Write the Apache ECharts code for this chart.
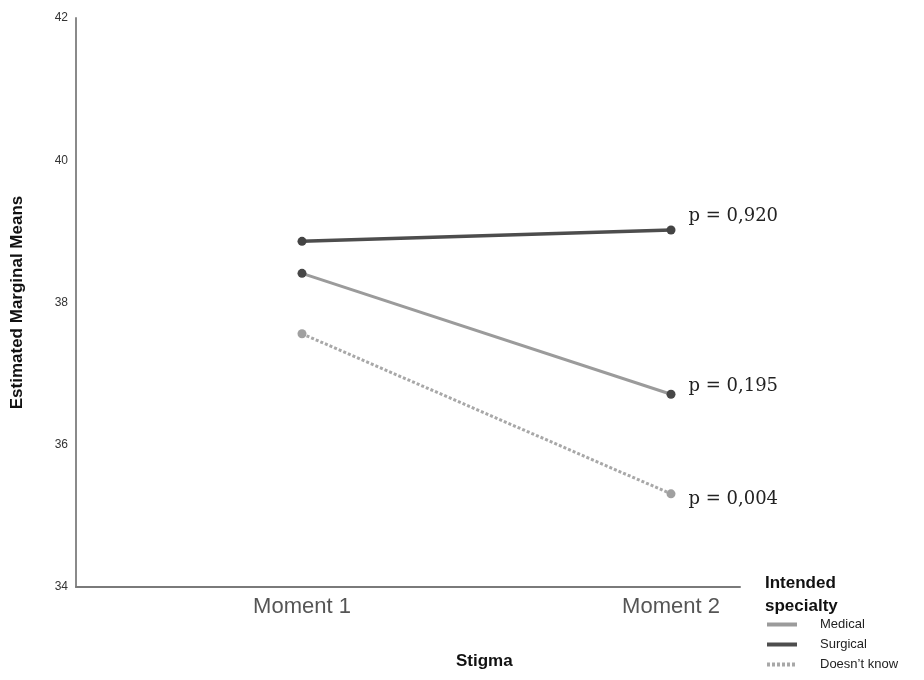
<!DOCTYPE html>
<html>
<head>
<meta charset="utf-8">
<script src="https://cdn.jsdelivr.net/npm/echarts@6/dist/echarts.min.js"></script>
<style>html,body{margin:0;padding:0;background:#fff;}#c{width:924px;height:680px;}</style>
</head>
<body>
<div id="c"></div>
<script>
// ---- data ----
const categories = ['Moment 1', 'Moment 2'];
const categoryPositions = [1, 2];
const seriesNames = ['Medical', 'Surgical', 'Doesn\u2019t know'];
const medical = [38.41, 36.71];
const surgical = [38.86, 39.02];
const doesntKnow = [37.56, 35.31];
const pValues = { 'Medical': 'p = 0,195', 'Surgical': 'p = 0,920', 'Doesn\u2019t know': 'p = 0,004' };
const yTicks = [34, 36, 38, 40, 42];

// ---- styles ----
const styles = {
  'Medical': { color: '#9b9b9b', sym: '#474747', type: 'solid', width: 3, labelDy: -8 },
  'Surgical': { color: '#4d4d4d', sym: '#444444', type: 'solid', width: 3.5, labelDy: -14 },
  'Doesn\u2019t know': { color: '#a8a8a8', sym: '#a0a0a0', type: [3, 2], width: 3, labelDy: 6 }
};
const values = { 'Medical': medical, 'Surgical': surgical, 'Doesn\u2019t know': doesntKnow };

const series = seriesNames.map(name => {
  const st = styles[name];
  const vals = values[name];
  return {
    name: name,
    type: 'line',
    symbol: 'circle',
    symbolSize: 9,
    z: name === 'Surgical' ? 3 : 2,
    lineStyle: { color: st.color, width: st.width, type: st.type },
    itemStyle: { color: st.sym },
    color: st.color,
    data: vals.map((v, i) => {
      const item = { value: [categoryPositions[i], v] };
      if (i === vals.length - 1) {
        item.label = {
          show: true,
          position: 'right',
          distance: 13,
          offset: [0, st.labelDy],
          formatter: pValues[name],
          fontFamily: '"DejaVu Serif", "Liberation Serif", serif',
          fontSize: 18,
          color: '#222'
        };
      }
      return item;
    })
  };
});

const chart = echarts.init(document.getElementById('c'), null, { renderer: 'canvas' });
chart.setOption({
  animation: false,
  backgroundColor: '#fff',
  grid: { left: 76, right: 184, top: 18, bottom: 93, containLabel: false },
  xAxis: {
    type: 'value',
    min: 0.3875,
    max: 2.187,
    axisLine: { show: true, lineStyle: { color: '#7a7a7a', width: 2 } },
    axisTick: { show: false },
    splitLine: { show: false },
    axisLabel: {
      customValues: categoryPositions,
      formatter: v => categories[categoryPositions.indexOf(v)] || '',
      fontFamily: '"Liberation Sans", Arial, sans-serif',
      fontSize: 22,
      color: '#555',
      margin: 9
    }
  },
  yAxis: {
    type: 'value',
    min: yTicks[0],
    max: yTicks[yTicks.length - 1],
    interval: 2,
    name: 'Estimated Marginal Means',
    nameLocation: 'middle',
    nameGap: 50,
    nameTextStyle: { fontFamily: '"Liberation Sans", Arial, sans-serif', fontSize: 17, fontWeight: 'bold', color: '#111' },
    axisLine: { show: true, lineStyle: { color: '#8a8a8a', width: 2 } },
    axisTick: { show: false },
    splitLine: { show: false },
    axisLabel: { fontFamily: '"Liberation Sans", Arial, sans-serif', fontSize: 12, color: '#333', margin: 8, padding: [4, 0, 0, 0] }
  },
  legend: {
    orient: 'vertical',
    left: 760,
    top: 613,
    itemWidth: 30,
    itemHeight: 14,
    itemGap: 7,
    data: seriesNames,
    itemStyle: { opacity: 0 },
    lineStyle: { width: 4 },
    textStyle: { fontFamily: '"Liberation Sans", Arial, sans-serif', fontSize: 13, color: '#222', padding: [0, 0, 0, 18] }
  },
  graphic: [
    { type: 'text', left: 765, top: 572, style: { text: 'Intended\nspecialty', font: 'bold 17px "Liberation Sans", Arial, sans-serif', fill: '#111', lineHeight: 23 } },
    { type: 'text', left: 456, top: 653, style: { text: 'Stigma', font: 'bold 17px "Liberation Sans", Arial, sans-serif', fill: '#111' } }
  ],
  series: series
});
</script>
</body>
</html>
